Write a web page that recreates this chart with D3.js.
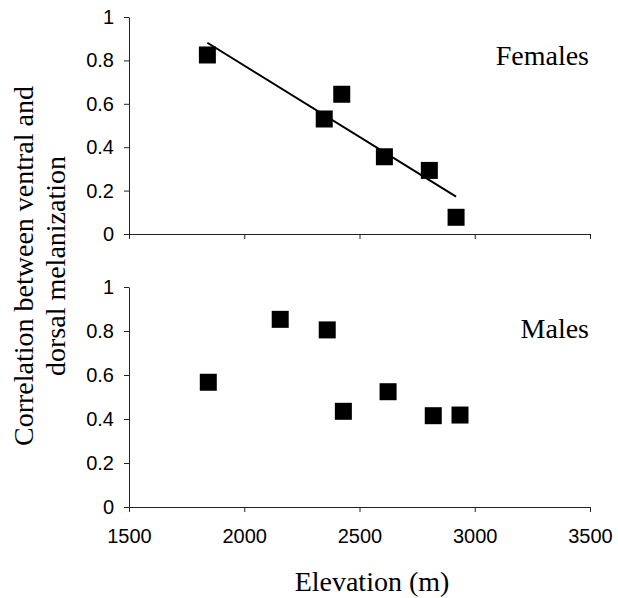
<!DOCTYPE html>
<html>
<head>
<meta charset="utf-8">
<script src="https://cdn.jsdelivr.net/npm/d3@7"></script>
<style>
  body { margin: 0; background: #fff; }
  .tick text { font-family: "Liberation Sans", Arial, sans-serif; font-size: 20px; fill: #000; }
  .domain, .tick line { stroke: #222; }
  .serif { font-family: "Liberation Serif", "Times New Roman", serif; font-size: 28px; fill: #000; }
</style>
</head>
<body>
<div id="chart"></div>
<script>
// Data (elevation in m, correlation)
const femaleElevation = [1840, 2347, 2423, 2608, 2803, 2919];
const femaleCorr = [0.825, 0.53, 0.644, 0.356, 0.293, 0.077];
const maleElevation = [1844, 2156, 2360, 2430, 2624, 2820, 2936];
const maleCorr = [0.567, 0.853, 0.805, 0.435, 0.524, 0.415, 0.418];
const xTicks = [1500, 2000, 2500, 3000, 3500];
const yTicks = [0, 0.2, 0.4, 0.6, 0.8, 1];

// Dimensions
const width = 618;
const height = 598;
const left = 129;
const right = 590;
const panels = [
  {name: 'Females', xs: femaleElevation, ys: femaleCorr, top: 17, bottom: 234, trend: true, labelY: 65},
  {name: 'Males', xs: maleElevation, ys: maleCorr, top: 287, bottom: 507, trend: false, labelY: 338}
];

const svg = d3.select('#chart')
  .append('svg')
    .attr('width', width)
    .attr('height', height)

// Scales
const scaleX = d3.scaleLinear().domain([1500, 3500]).range([left, right]);

panels.forEach((p, i) => {
  const scaleY = d3.scaleLinear().domain([0, 1]).range([p.bottom, p.top]);
  const g = svg.append('g');

  // Axes
  const xAxis = d3.axisBottom(scaleX).tickValues(xTicks).tickSize(5).tickSizeOuter(0).tickPadding(17)
    .tickFormat(d3.format('d'));
  const gx = g.append('g')
    .attr('transform', `translate(0, ${p.bottom})`)
    .call(xAxis)
  if (i === 0) gx.selectAll('text').remove();
  g.append('g')
    .attr('transform', `translate(${left}, 0)`)
    .call(d3.axisLeft(scaleY).tickValues(yTicks).tickSize(5).tickSizeOuter(0).tickPadding(10)
      .tickFormat(d3.format('~g')))

  // Trend line (least squares)
  if (p.trend) {
    const mx = d3.mean(p.xs);
    const my = d3.mean(p.ys);
    const slope = d3.sum(p.xs, (x, k) => (x - mx) * (p.ys[k] - my)) / d3.sum(p.xs, (x) => (x - mx) ** 2);
    const ends = d3.extent(p.xs);
    g.append('line')
      .attr('x1', scaleX(ends[0]))
      .attr('y1', scaleY(my + slope * (ends[0] - mx)))
      .attr('x2', scaleX(ends[1]))
      .attr('y2', scaleY(my + slope * (ends[1] - mx)))
      .attr('stroke', '#000')
      .attr('stroke-width', 2)
  }

  // Markers
  const size = 17;
  g.selectAll('rect.pt')
    .data(p.xs.map((x, k) => [x, p.ys[k]]))
    .join('rect')
      .attr('class', 'pt')
      .attr('x', (d) => scaleX(d[0]) - size / 2)
      .attr('y', (d) => scaleY(d[1]) - size / 2)
      .attr('width', size)
      .attr('height', size)
      .attr('fill', '#000')

  g.append('text')
    .attr('class', 'serif')
    .attr('x', 589)
    .attr('y', p.labelY)
    .attr('text-anchor', 'end')
    .text(p.name)
});

// Axis titles
svg.append('text')
  .attr('class', 'serif')
  .attr('x', 372)
  .attr('y', 591)
  .attr('text-anchor', 'middle')
  .text('Elevation (m)')

const yTitle = svg.append('text')
  .attr('class', 'serif')
  .attr('transform', 'translate(0, 266) rotate(-90)')
  .attr('text-anchor', 'middle')
yTitle.append('tspan').attr('x', 0).attr('y', 33).text('Correlation between ventral and');
yTitle.append('tspan').attr('x', 0).attr('y', 65).text('dorsal melanization');
</script>
</body>
</html>
